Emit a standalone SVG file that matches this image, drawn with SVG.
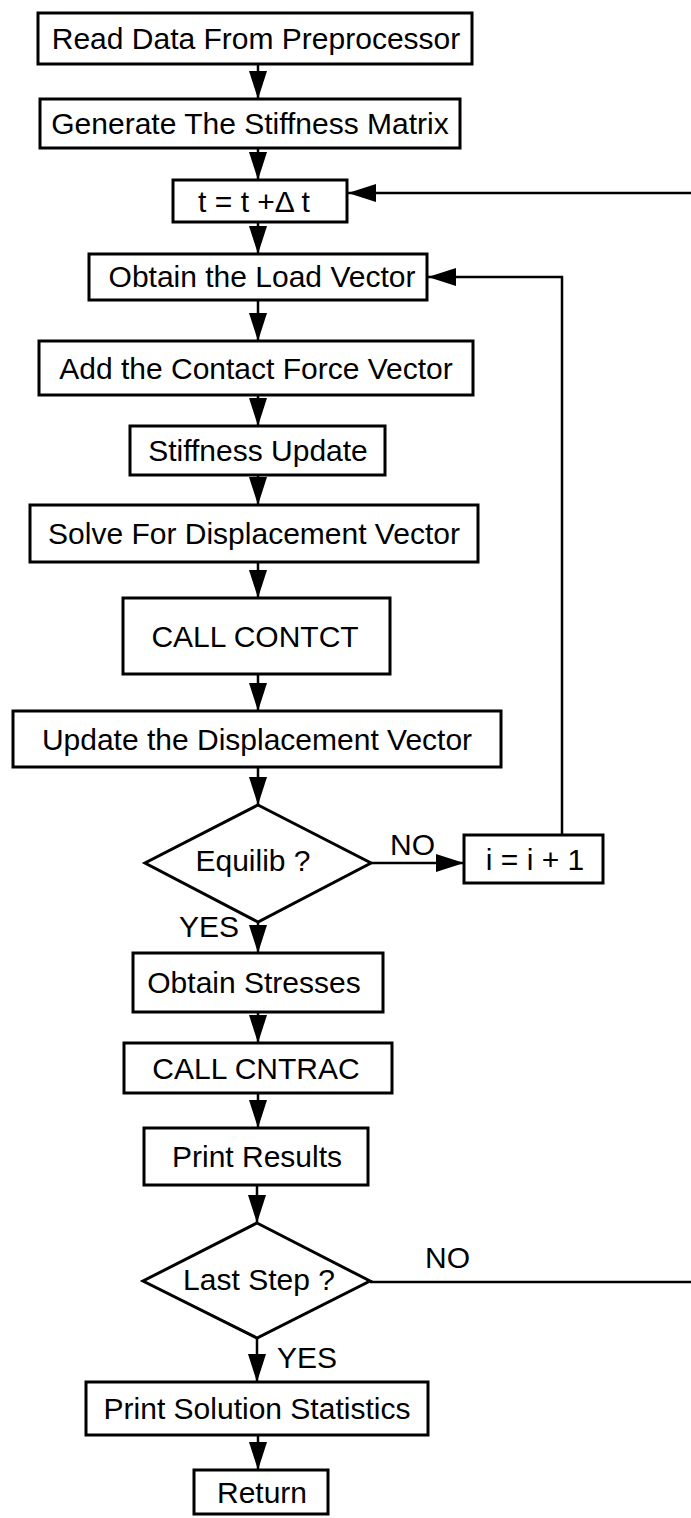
<svg xmlns="http://www.w3.org/2000/svg" width="691" height="1518" viewBox="0 0 691 1518">
<defs>
<marker id="ah" viewBox="0 0 28 18" refX="28" refY="9" markerWidth="28" markerHeight="18" markerUnits="userSpaceOnUse" orient="auto">
<path d="M0,0 L28,9 L0,18 z" fill="#000"/>
</marker>
<style>
.b{fill:#fff;stroke:#000;stroke-width:3}
.t{font-family:"Liberation Sans",Arial,sans-serif;font-size:30px;fill:#000;text-anchor:middle}
.l{font-family:"Liberation Sans",Arial,sans-serif;font-size:30px;fill:#000}
.c{fill:none;stroke:#000;stroke-width:2.5}
.a{fill:none;stroke:#000;stroke-width:2.5;marker-end:url(#ah)}
</style>
</defs>
<rect width="691" height="1518" fill="#fff"/>
<g id="connectors">
<line class="a" x1="258" y1="64" x2="258" y2="99"/>
<line class="a" x1="258" y1="148" x2="258" y2="180"/>
<line class="a" x1="258" y1="222" x2="258" y2="254"/>
<line class="a" x1="258" y1="300" x2="258" y2="341"/>
<line class="a" x1="258" y1="395" x2="258" y2="426"/>
<line class="a" x1="258" y1="475" x2="258" y2="505"/>
<line class="a" x1="258" y1="562" x2="258" y2="598"/>
<line class="a" x1="258" y1="674" x2="258" y2="711"/>
<line class="a" x1="258" y1="767" x2="258" y2="805"/>
<line class="a" x1="258" y1="922" x2="258" y2="953"/>
<line class="a" x1="258" y1="1012" x2="258" y2="1043"/>
<line class="a" x1="258" y1="1093" x2="258" y2="1128"/>
<line class="a" x1="257" y1="1185" x2="257" y2="1223"/>
<line class="a" x1="257" y1="1338" x2="257" y2="1382"/>
<line class="a" x1="258" y1="1435" x2="258" y2="1470"/>
<line class="a" x1="371" y1="863" x2="464" y2="863"/>
<polyline class="a" points="562,835 562,277 428,277"/>
<line class="a" x1="691" y1="193" x2="348" y2="193"/>
<line class="c" x1="370" y1="1282" x2="691" y2="1282"/>
<text class="l" x="390" y="855">NO</text>
<text class="l" x="179" y="937">YES</text>
<text class="l" x="425" y="1268">NO</text>
<text class="l" x="277" y="1368">YES</text>
</g>
<g id="n1"><rect class="b" x="38" y="13" width="434" height="51"/><text class="t" x="256" y="49">Read Data From Preprocessor</text></g>
<g id="n2"><rect class="b" x="40" y="99" width="420" height="49"/><text class="t" x="250" y="134">Generate The Stiffness Matrix</text></g>
<g id="n3"><rect class="b" x="173" y="180" width="174" height="42"/><text class="t" x="254" y="212">t = t +Δ t</text></g>
<g id="n4"><rect class="b" x="89" y="254" width="338" height="46"/><text class="t" x="262" y="287">Obtain the Load Vector</text></g>
<g id="n5"><rect class="b" x="39" y="341" width="434" height="54"/><text class="t" x="256" y="379">Add the Contact Force Vector</text></g>
<g id="n6"><rect class="b" x="130" y="426" width="255" height="49"/><text class="t" x="258" y="461">Stiffness Update</text></g>
<g id="n7"><rect class="b" x="30" y="505" width="448" height="57"/><text class="t" x="254" y="544">Solve For Displacement Vector</text></g>
<g id="n8"><rect class="b" x="123" y="598" width="267" height="76"/><text class="t" x="255" y="647">CALL CONTCT</text></g>
<g id="n9"><rect class="b" x="13" y="711" width="488" height="56"/><text class="t" x="257" y="750">Update the Displacement Vector</text></g>
<g id="n10"><polygon class="b" points="258,805 371,863 258,922 145,863"/><text class="t" x="253" y="871">Equilib ?</text></g>
<g id="n11"><rect class="b" x="464" y="835" width="139" height="48"/><text class="t" x="535" y="870">i = i + 1</text></g>
<g id="n12"><rect class="b" x="133" y="953" width="250" height="59"/><text class="t" x="254" y="993">Obtain Stresses</text></g>
<g id="n13"><rect class="b" x="124" y="1043" width="268" height="50"/><text class="t" x="256" y="1079">CALL CNTRAC</text></g>
<g id="n14"><rect class="b" x="144" y="1128" width="224" height="57"/><text class="t" x="257" y="1167">Print Results</text></g>
<g id="n15"><polygon class="b" points="257,1223 370,1281 257,1338 143,1281"/><text class="t" x="259" y="1290">Last Step ?</text></g>
<g id="n16"><rect class="b" x="86" y="1382" width="342" height="53"/><text class="t" x="257" y="1419">Print Solution Statistics</text></g>
<g id="n17"><rect class="b" x="194" y="1470" width="134" height="44"/><text class="t" x="262" y="1503">Return</text></g>
</svg>
